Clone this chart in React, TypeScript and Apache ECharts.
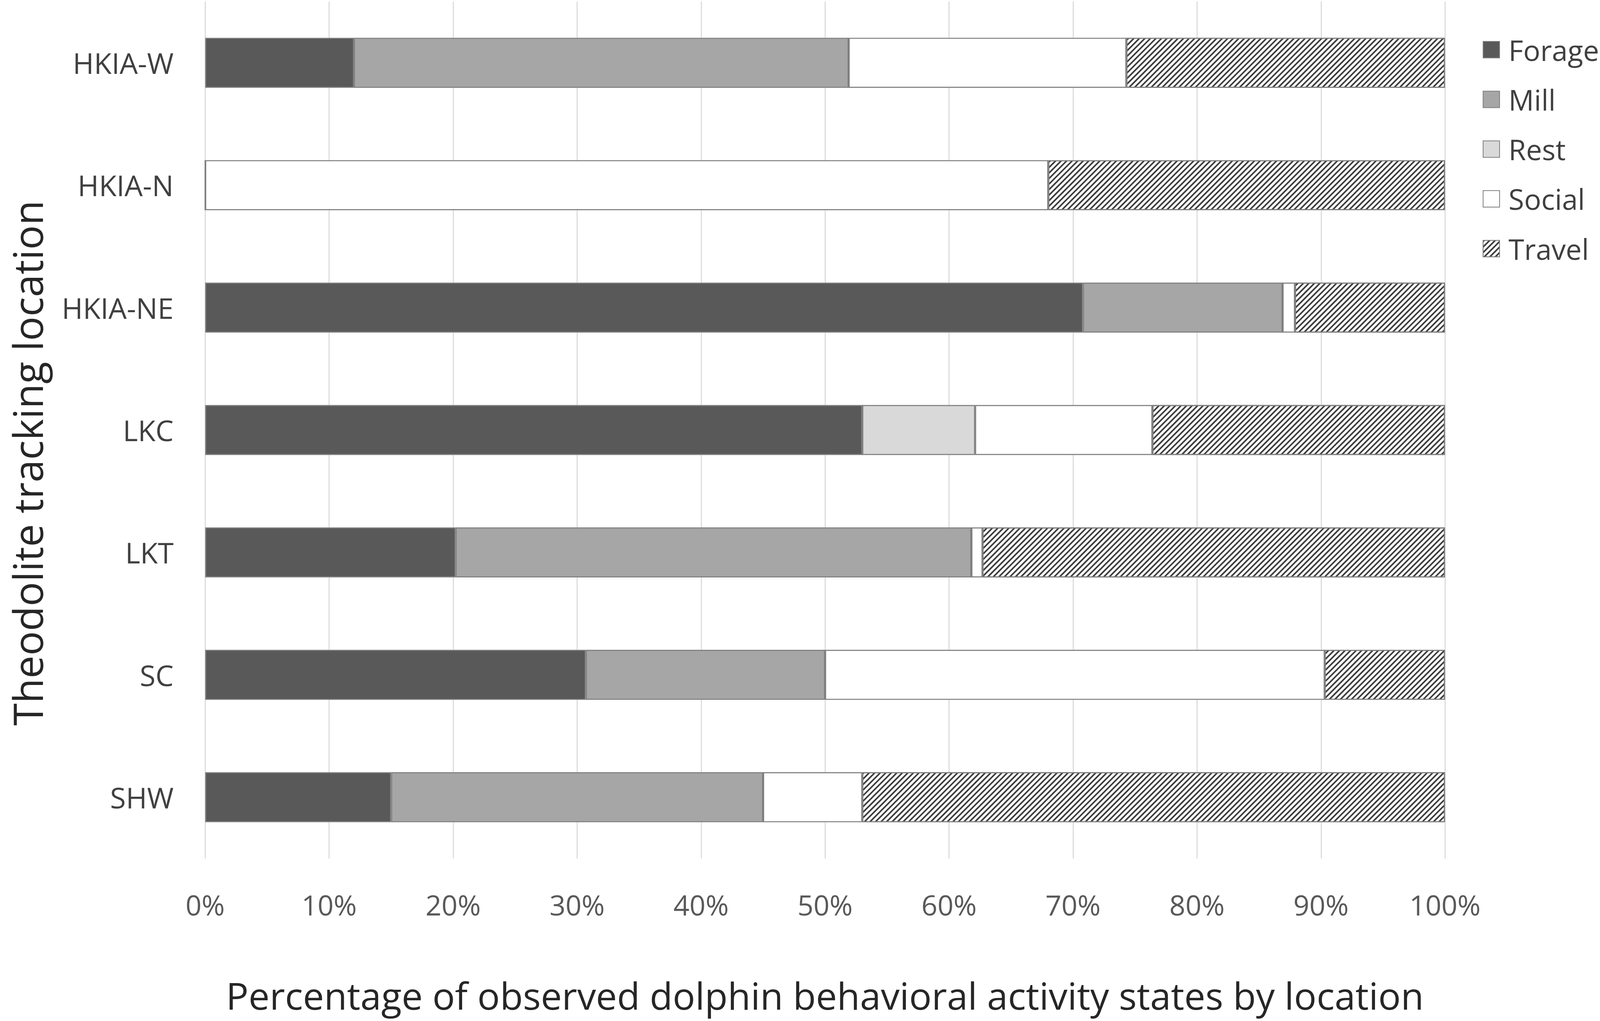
import React, { useEffect, useRef, useState } from "react";
import * as echarts from "echarts";

const categories = ["HKIA-W", "HKIA-N", "HKIA-NE", "LKC", "LKT", "SC", "SHW"];
const forage = [12.0, 0, 70.8, 53.0, 20.2, 30.7, 15.0];
const mill = [39.9, 0, 16.1, 0, 41.6, 19.3, 30.0];
const rest = [0, 0, 0, 9.1, 0, 0, 0];
const social = [22.4, 68.0, 1.0, 14.3, 0.9, 40.3, 8.0];
const travel = [25.7, 32.0, 12.1, 23.6, 37.3, 9.7, 47.0];
const xTicks = [0, 10, 20, 30, 40, 50, 60, 70, 80, 90, 100];
const legendNames = ["Forage", "Mill", "Rest", "Social", "Travel"];

const FONT = "'Open Sans', 'Noto Sans', sans-serif";
const REF_W = 4562;
const REF_H = 2613;

export default function App() {
  const ref = useRef<HTMLDivElement>(null);
  const [size] = useState(() => {
    document.body.style.margin = "0";
    document.body.style.overflow = "hidden";
    const w = document.documentElement.clientWidth || window.innerWidth || REF_W;
    const h = window.innerHeight || REF_H;
    return { w, h };
  });
  useEffect(() => {
    const { w, h } = size;
    const sx = w / REF_W;
    const sy = h / REF_H;
    const s = Math.min(sx, sy);
    const X = (v: number) => v * sx;
    const Y = (v: number) => v * sy;
    const F = (v: number) => v * s;
    const chart = echarts.init(ref.current!, null, { renderer: "svg" });
    const border = { borderColor: "#7f7f7f", borderWidth: F(3) };
    const mk = (name: string, data: number[], style: any) => ({
      name,
      type: "bar",
      stack: "total",
      data,
      barWidth: Y(128),
      itemStyle: { ...border, ...style },
      emphasis: { disabled: true },
    });
    const legFont = F(81);
    const yTitleFont = Y(104);
    chart.setOption({
      animation: false,
      textStyle: { fontFamily: FONT },
      grid: { left: X(585), right: X(442), top: Y(4), bottom: Y(416), containLabel: false },
      xAxis: {
        type: "value",
        min: 0,
        max: 100,
        interval: 10,
        axisLine: { show: false },
        axisTick: { show: false },
        splitLine: { show: true, lineStyle: { color: "#d9d9d9", width: F(3) } },
        axisLabel: {
          formatter: (v: number) => (xTicks.includes(v) ? v + "%" : ""),
          fontSize: F(80),
          color: "#595959",
          margin: Y(82),
          fontFamily: FONT,
        },
      },
      yAxis: {
        type: "category",
        inverse: true,
        data: categories,
        axisLine: { show: false },
        axisTick: { show: false },
        axisLabel: { fontSize: F(82), color: "#404040", margin: X(90), fontFamily: FONT },
      },
      legend: {
        orient: "vertical",
        left: X(4222),
        top: Y(122) - legFont / 2,
        itemWidth: F(47),
        itemHeight: F(47),
        itemGap: Y(127) - legFont,
        icon: "rect",
        textStyle: {
          fontSize: legFont,
          lineHeight: legFont,
          color: "#404040",
          fontFamily: FONT,
          padding: [0, 0, 0, F(20)],
        },
        data: legendNames,
      },
      graphic: [
        {
          type: "text",
          x: X(2352),
          y: Y(2546),
          style: {
            text: "Percentage of observed dolphin behavioral activity states by location",
            fontSize: F(107),
            fontFamily: FONT,
            fill: "#262626",
            align: "center",
            verticalAlign: "middle",
          },
        },
        {
          type: "text",
          x: X(14) + yTitleFont * 0.55,
          y: Y(1185),
          rotation: Math.PI / 2,
          style: {
            text: "Theodolite tracking location",
            fontSize: yTitleFont,
            fontFamily: FONT,
            fill: "#262626",
            align: "center",
            verticalAlign: "middle",
          },
        },
      ],
      series: [
        mk("Forage", forage, { color: "#595959" }),
        mk("Mill", mill, { color: "#a6a6a6" }),
        mk("Rest", rest, { color: "#d9d9d9" }),
        mk("Social", social, { color: "#ffffff" }),
        mk("Travel", travel, {
          color: "#ffffff",
          decal: {
            symbol: "rect",
            symbolSize: 1,
            dashArrayX: [[1, 0]],
            dashArrayY: [F(4), F(6)],
            rotation: -Math.PI / 4,
            color: "#3c3c3c",
          },
        }),
      ],
    });
    return () => chart.dispose();
  }, [size]);
  return <div ref={ref} style={{ width: size.w, height: size.h }} />;
}
